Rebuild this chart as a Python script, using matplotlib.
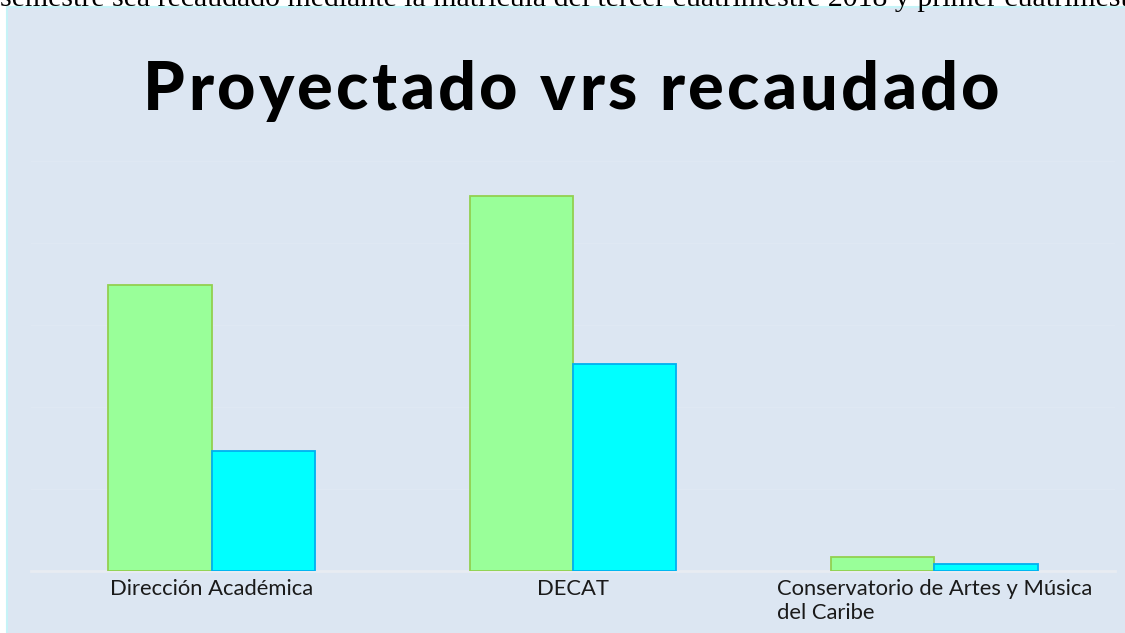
import matplotlib
matplotlib.use('Agg')
import matplotlib.pyplot as plt
from matplotlib.patches import Rectangle
from matplotlib.font_manager import FontProperties
import numpy as np

categories = ['Dirección Académica', 'DECAT', 'Conservatorio de Artes y Música\ndel Caribe']
proyectado = [349, 457, 17]
recaudado = [146, 252, 8.5]

title = 'Proyectado vrs recaudado'
top_line = 'semestre sea recaudado mediante la matrícula del tercer cuatrimestre 2018 y primer cuatrimestre'

W, H = 1125, 633
fig = plt.figure(figsize=(W/100, H/100), dpi=100)
fig.patch.set_facecolor('white')

# light blue panel behind the chart
panel = Rectangle((7/W, -0.05), 1.1, 1 - 7.5/H + 0.05, transform=fig.transFigure,
                  facecolor='#dce6f2', edgecolor='#c6f3f7', linewidth=1.5, zorder=-5)
fig.patches.append(panel)

# cut-off text line from the document above
fig.text(0.0, 1 - 5.5/H, top_line, family='Liberation Serif', fontsize=21.5,
         va='baseline', ha='left', color='black', zorder=5)

ax = fig.add_axes([31/W, 1 - 571/H, 1084/W, (571 - 161)/H])
ax.set_facecolor('none')
ax.set_zorder(1)

x = np.arange(len(categories))
w = 0.286
ax.bar(x - w/2, proyectado, w, color='#99ff99', edgecolor='#92d050', linewidth=1.3, zorder=3)
ax.bar(x + w/2, recaudado, w, color='#00ffff', edgecolor='#00b0f0', linewidth=1.3, zorder=3)

ax.set_xlim(-0.5, 2.5)
ax.set_ylim(0, 500)
ax.set_yticks(np.arange(0, 501, 100))
ax.yaxis.grid(True, color='#dfe8f3', linewidth=1, zorder=0)
ax.tick_params(axis='y', left=False, labelleft=False)
ax.tick_params(axis='x', length=0, pad=6)
for s in ['top', 'right', 'left']:
    ax.spines[s].set_visible(False)
ax.spines['bottom'].set_color('#e8ecf2')
ax.spines['bottom'].set_linewidth(2)
ax.spines['bottom'].set_zorder(2)

ax.set_xticks(x)
ax.set_xticklabels(categories, family='Lato', fontsize=15.8, color='#1a1a1a',
                   multialignment='left', va='top')

# title with letter spacing, drawn char by char
fp = FontProperties(family='Lato', weight='black', size=48)
r = fig.canvas.get_renderer()
def tw(s):
    if not s:
        return 0.0
    return r.get_text_width_height_descent(s, fp, ismath=False)[0]
track = 3.3
total = tw(title) + track * (len(title) - 1)
x0 = 571.5 - total / 2
for i, ch in enumerate(title):
    px = x0 + tw(title[:i]) + track * i
    fig.text(px / W, 1 - 110/H, ch, fontproperties=fp, ha='left', va='baseline', color='black')

fig.savefig('out.png', dpi=100)
